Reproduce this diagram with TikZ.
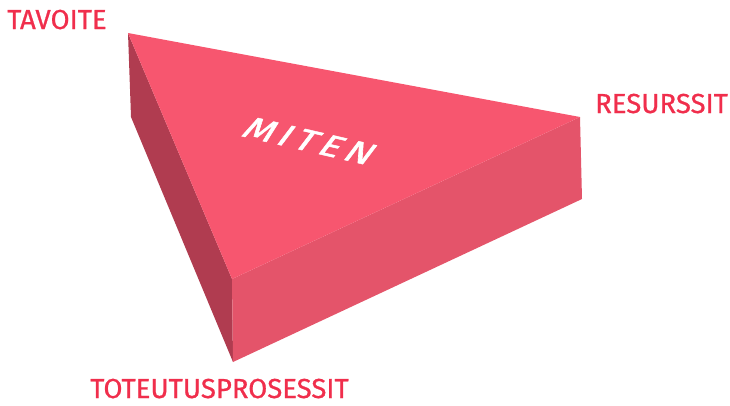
\documentclass[tikz,border=0pt]{standalone}
\usepackage{fontspec}
\setmainfont{Fira Sans}
\usepackage{tikz}
\usetikzlibrary{positioning,calc}
\usepackage{xcolor}
\definecolor{topred}{RGB}{247,86,111}
\definecolor{sidered}{RGB}{228,84,106}
\definecolor{darkred}{RGB}{176,60,80}
\definecolor{labelred}{RGB}{240,46,76}

\begin{document}
\begin{tikzpicture}[x=1pt,y=-1pt,
    corner/.style={font=\fontsize{27.5}{27.5}\selectfont\addfontfeature{FakeBold=0.8},
      text=labelred,inner sep=0pt,anchor=base west}]
  \useasboundingbox (0,0) rectangle (730,405);
  % Top face corners
  \coordinate (A) at (128,33);
  \coordinate (B) at (580,117);
  \coordinate (C) at (232,279);
  % Bottom corners
  \coordinate (A2) at (131,117);
  \coordinate (B2) at (582,199);
  \coordinate (C2) at (233,362);
  % Left face
  \fill[darkred] (A) -- (C) -- (C2) -- (A2) -- cycle;
  % Right face
  \fill[sidered] (C) -- (B) -- (B2) -- (C2) -- cycle;
  % Top face
  \fill[topred] (A) -- (B) -- (C) -- cycle;
  % Label on top
  \node[white,font=\fontsize{31}{31}\selectfont\addfontfeature{FakeBold=1.5,LetterSpace=14},
    rotate=-13,xslant=0.45,xscale=1.25,inner sep=0pt] (miten) at (310,141) {MITEN};
  % Corner labels
  \node[corner] (tavoite) at (7,29) {TAVOITE};
  \node[corner] (resurssit) at (595,113) {RESURSSIT};
  \node[corner] (toteutus) at (90,398) {TOTEUTUSPROSESSIT};
\end{tikzpicture}
\end{document}
